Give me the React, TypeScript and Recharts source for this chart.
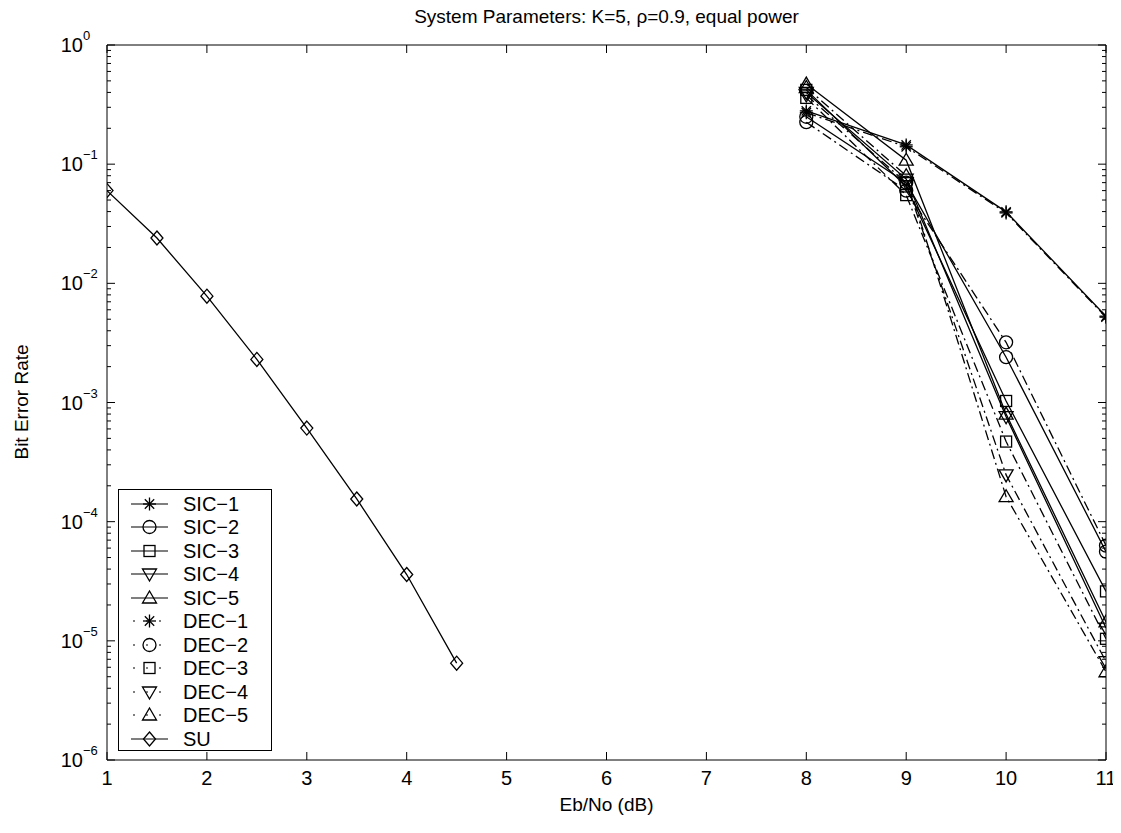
import React from 'react';
import { LineChart, Line, XAxis, YAxis, ReferenceLine } from 'recharts';

// Eb/No values (dB)
const ebnoSU = [1, 1.5, 2, 2.5, 3, 3.5, 4, 4.5];
const ebnoMU = [8, 9, 10, 11];

// bit error rates
const berSU = [0.06, 0.024, 0.0078, 0.0023, 6.1e-4, 1.55e-4, 3.6e-5, 6.5e-6];
const berSIC1 = [0.28, 0.145, 0.0398, 0.0053];
const berSIC2 = [0.25, 0.07, 0.0024, 5.6e-5];
const berSIC3 = [0.42, 0.065, 0.00103, 2.6e-5];
const berSIC4 = [0.4, 0.075, 0.00076, 1.28e-5];
const berSIC5 = [0.47, 0.108, 0.0008, 1.44e-5];
const berDEC1 = [0.27, 0.14, 0.039, 0.0052];
const berDEC2 = [0.225, 0.06, 0.0032, 6.3e-5];
const berDEC3 = [0.36, 0.055, 0.00047, 1.04e-5];
const berDEC4 = [0.38, 0.07, 0.000247, 6.7e-6];
const berDEC5 = [0.44, 0.08, 0.000162, 5.5e-6];

const xTicks = [1, 2, 3, 4, 5, 6, 7, 8, 9, 10, 11];
const yMajor = [1e-6, 1e-5, 1e-4, 1e-3, 1e-2, 1e-1, 1];
const yMinorMult = [2, 3, 4, 5, 6, 7, 8, 9];

const yTicks: number[] = [];
yMajor.forEach((m) => {
  yTicks.push(m);
  if (m < 1) yMinorMult.forEach((k) => yTicks.push(k * m));
});
yTicks.sort((a, b) => a - b);

const FONT = '"Liberation Sans", Arial, Helvetica, sans-serif';
const W = 1113;
const H = 817;
const PL = 99;
const PR = 1098;
const PT = 37;
const PB = 752;

type Kind = 'star' | 'circle' | 'square' | 'triDown' | 'triUp' | 'diamond';

const DASH = '10 4 2 4';

const series: { name: string; kind: Kind; dash?: string; x: number[]; y: number[] }[] = [
  { name: 'SIC−1', kind: 'star', x: ebnoMU, y: berSIC1 },
  { name: 'SIC−2', kind: 'circle', x: ebnoMU, y: berSIC2 },
  { name: 'SIC−3', kind: 'square', x: ebnoMU, y: berSIC3 },
  { name: 'SIC−4', kind: 'triDown', x: ebnoMU, y: berSIC4 },
  { name: 'SIC−5', kind: 'triUp', x: ebnoMU, y: berSIC5 },
  { name: 'DEC−1', kind: 'star', dash: DASH, x: ebnoMU, y: berDEC1 },
  { name: 'DEC−2', kind: 'circle', dash: DASH, x: ebnoMU, y: berDEC2 },
  { name: 'DEC−3', kind: 'square', dash: DASH, x: ebnoMU, y: berDEC3 },
  { name: 'DEC−4', kind: 'triDown', dash: DASH, x: ebnoMU, y: berDEC4 },
  { name: 'DEC−5', kind: 'triUp', dash: DASH, x: ebnoMU, y: berDEC5 },
  { name: 'SU', kind: 'diamond', x: ebnoSU, y: berSU },
];

function Marker({ kind, cx, cy }: { kind: Kind; cx: number; cy: number }) {
  const st = { stroke: '#000', strokeWidth: 1.3, fill: 'none' };
  if (cx == null || cy == null) return null;
  switch (kind) {
    case 'star': {
      const r = 6.5;
      const d = r * 0.72;
      return (
        <g {...st}>
          <line x1={cx - r} y1={cy} x2={cx + r} y2={cy} />
          <line x1={cx} y1={cy - r} x2={cx} y2={cy + r} />
          <line x1={cx - d} y1={cy - d} x2={cx + d} y2={cy + d} />
          <line x1={cx - d} y1={cy + d} x2={cx + d} y2={cy - d} />
        </g>
      );
    }
    case 'circle':
      return <circle cx={cx} cy={cy} r={6.5} {...st} />;
    case 'square':
      return <rect x={cx - 5.5} y={cy - 5.5} width={11} height={11} {...st} />;
    case 'triDown':
      return <polygon points={`${cx - 7},${cy - 5} ${cx + 7},${cy - 5} ${cx},${cy + 7}`} {...st} />;
    case 'triUp':
      return <polygon points={`${cx - 7},${cy + 5} ${cx + 7},${cy + 5} ${cx},${cy - 7}`} {...st} />;
    case 'diamond':
      return <polygon points={`${cx},${cy - 7} ${cx + 6},${cy} ${cx},${cy + 7} ${cx - 6},${cy}`} {...st} />;
  }
  return null;
}

function YTick(props: any) {
  const { y, payload } = props;
  const v = payload.value as number;
  const e = Math.round(Math.log10(v));
  const major = Math.abs(v / Math.pow(10, e) - 1) < 1e-6;
  const len = major ? 8 : 4;
  return (
    <g>
      <line x1={PL} y1={y} x2={PL + len} y2={y} stroke="#000" strokeWidth={1} />
      <line x1={PR - len} y1={y} x2={PR} y2={y} stroke="#000" strokeWidth={1} />
      {major && (
        <text fontFamily={FONT} fill="#000">
          <tspan x={75} y={y + 7} fontSize={20} textAnchor="end">10</tspan>
          <tspan x={75} y={y - 5} fontSize={13} textAnchor="start">{e === 0 ? '0' : `−${-e}`}</tspan>
        </text>
      )}
    </g>
  );
}

function XTick(props: any) {
  const { x, payload } = props;
  return (
    <g>
      <line x1={x} y1={PB} x2={x} y2={PB - 8} stroke="#000" strokeWidth={1} />
      <line x1={x} y1={PT} x2={x} y2={PT + 8} stroke="#000" strokeWidth={1} />
      <text x={x} y={PB + 25} textAnchor="middle" fontFamily={FONT} fontSize={20} fill="#000">
        {payload.value}
      </text>
    </g>
  );
}

function LegendBox() {
  return (
    <div
      style={{
        position: 'absolute',
        left: 110,
        top: 481,
        width: 154,
        height: 262,
        border: '1px solid #000',
        background: '#fff',
        boxSizing: 'border-box',
        fontFamily: FONT,
        fontSize: 20,
        paddingTop: 2,
      }}
    >
      {series.map((s) => (
        <div key={s.name} style={{ height: 23.5, display: 'flex', alignItems: 'center' }}>
          <svg width={58} height={22} style={{ flex: 'none' }}>
            <line
              x1={12}
              y1={11}
              x2={49}
              y2={11}
              stroke="#000"
              strokeWidth={1.2}
              strokeDasharray={s.dash ? '2 11' : undefined}
              strokeDashoffset={s.dash ? -2 : undefined}
            />
            <Marker kind={s.kind} cx={30.5} cy={11} />
          </svg>
          <span style={{ marginLeft: 6, lineHeight: '22px' }}>{s.name}</span>
        </div>
      ))}
    </div>
  );
}

export default function App() {
  return (
    <div style={{ position: 'relative', width: W, height: H, background: '#fff' }}>
      <LineChart width={W} height={H} margin={{ top: PT, right: W - PR, left: 0, bottom: 0 }}>
        <XAxis
          type="number"
          dataKey="x"
          domain={[1, 11]}
          ticks={xTicks}
          interval={0}
          allowDataOverflow
          height={H - PB}
          tickLine={false}
          axisLine={{ stroke: '#000', strokeWidth: 1 }}
          tick={<XTick />}
        />
        <YAxis
          type="number"
          scale="log"
          domain={[1e-6, 1]}
          ticks={yTicks}
          interval={0}
          allowDataOverflow
          width={PL}
          tickLine={false}
          axisLine={{ stroke: '#000', strokeWidth: 1 }}
          tick={<YTick />}
        />
        <ReferenceLine y={1} stroke="#000" strokeWidth={1} />
        <ReferenceLine x={11} stroke="#000" strokeWidth={1} />
        {series.map((s) => (
          <Line
            key={s.name}
            name={s.name}
            data={s.x.map((x, i) => ({ x, ber: s.y[i] }))}
            dataKey="ber"
            type="linear"
            stroke="#000"
            strokeWidth={1.3}
            strokeDasharray={s.dash}
            dot={(p: any) => <Marker key={`${s.name}-${p.index}`} kind={s.kind} cx={p.cx} cy={p.cy} />}
            activeDot={false}
            isAnimationActive={false}
          />
        ))}
      </LineChart>
      <div
        style={{
          position: 'absolute',
          left: PL,
          width: PR - PL,
          top: 0,
          lineHeight: '18px',
          textAlign: 'center',
          fontFamily: FONT,
          fontSize: 19,
        }}
      >
        System Parameters: K=5, ρ=0.9, equal power
      </div>
      <div
        style={{
          position: 'absolute',
          left: PL,
          width: PR - PL,
          top: 787,
          lineHeight: '20px',
          textAlign: 'center',
          fontFamily: FONT,
          fontSize: 19,
        }}
      >
        Eb/No (dB)
      </div>
      <div
        style={{
          position: 'absolute',
          left: 14 - 100,
          top: 394 - 10,
          width: 200,
          lineHeight: '20px',
          textAlign: 'center',
          transform: 'rotate(-90deg)',
          fontFamily: FONT,
          fontSize: 19,
        }}
      >
        Bit Error Rate
      </div>
      <LegendBox />
    </div>
  );
}
